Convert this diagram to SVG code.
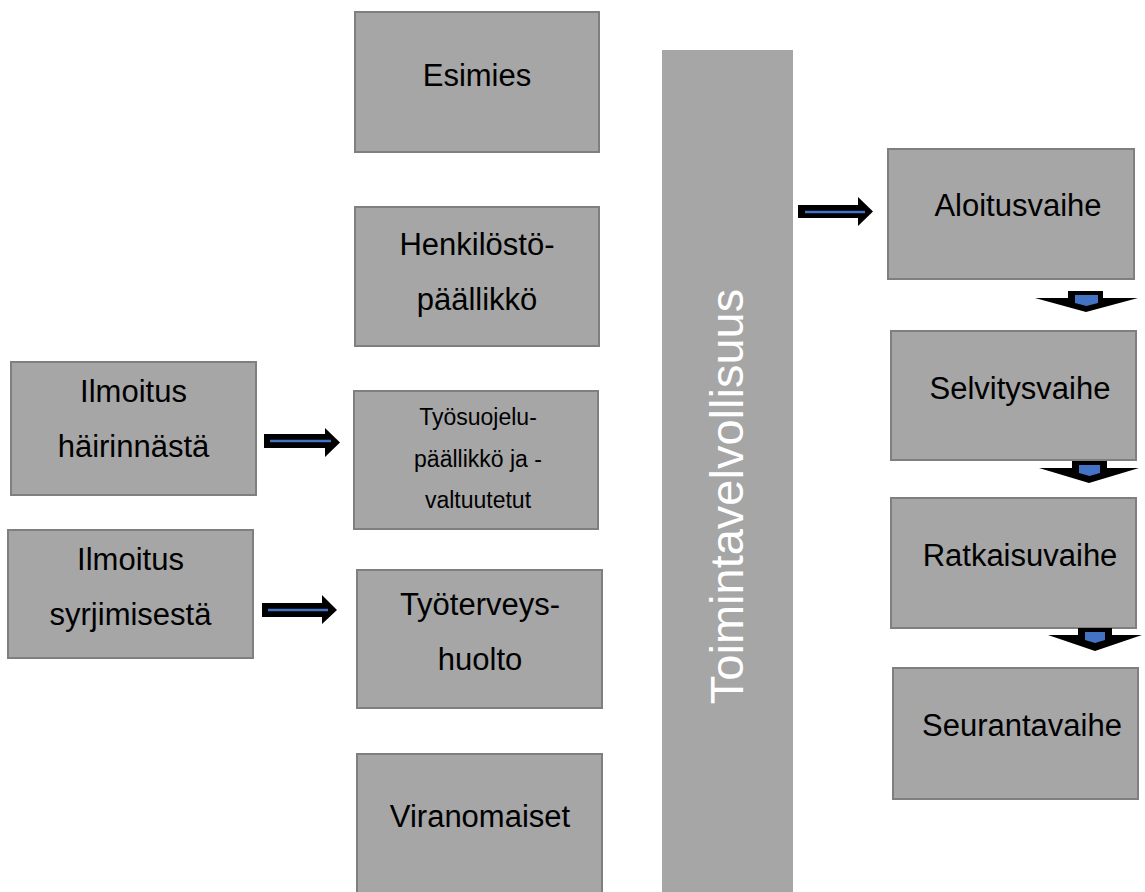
<svg xmlns="http://www.w3.org/2000/svg" width="1145" height="892" viewBox="0 0 1145 892">
<style>
.box{fill:#a6a6a6;stroke:#7f7f7f;stroke-width:2}
.t{font-family:"Liberation Sans",Arial,sans-serif;font-size:31px;fill:#000;text-anchor:middle}
.s{font-family:"Liberation Sans",Arial,sans-serif;font-size:23px;fill:#000;text-anchor:middle}
.arr{fill:#000}
.bl{stroke:#4472c4;stroke-width:2.5}
.blf{fill:#4472c4}
</style>
<rect width="1145" height="892" fill="#fff"/>
<g id="bar">
<rect x="662" y="50" width="131" height="850" fill="#a6a6a6"/>
<text transform="translate(743,496.5) rotate(-90)" font-family="Liberation Sans, Arial, sans-serif" font-size="47" fill="#fff" text-anchor="middle">Toimintavelvollisuus</text>
</g>
<g id="esimies"><rect class="box" x="355" y="12" width="244" height="140"/><text class="t" x="477" y="86">Esimies</text></g>
<g id="henkilosto"><rect class="box" x="355" y="207" width="244" height="139"/><text class="t" x="477" y="255">Henkilöstö-</text><text class="t" x="477" y="310">päällikkö</text></g>
<g id="tyosuojelu"><rect class="box" x="354" y="391" width="244" height="138"/><text class="s" x="478" y="425">Työsuojelu-</text><text class="s" x="478" y="467">päällikkö ja -</text><text class="s" x="478" y="508">valtuutetut</text></g>
<g id="tyoterveys"><rect class="box" x="357" y="570" width="245" height="138"/><text class="t" x="480" y="615">Työterveys-</text><text class="t" x="480" y="670">huolto</text></g>
<g id="viranomaiset"><rect class="box" x="357" y="754" width="245" height="145"/><text class="t" x="480" y="827">Viranomaiset</text></g>
<g id="ilmoitus1"><rect class="box" x="11" y="362" width="245" height="133"/><text class="t" x="133.5" y="402">Ilmoitus</text><text class="t" x="133.5" y="457">häirinnästä</text></g>
<g id="ilmoitus2"><rect class="box" x="8" y="530" width="245" height="128"/><text class="t" x="130.5" y="570">Ilmoitus</text><text class="t" x="130.5" y="625">syrjimisestä</text></g>
<g id="aloitus"><rect class="box" x="888" y="149" width="246" height="130"/><text class="t" x="1018" y="216">Aloitusvaihe</text></g>
<g id="selvitys"><rect class="box" x="891" y="331" width="245" height="129"/><text class="t" x="1020" y="399">Selvitysvaihe</text></g>
<g id="ratkaisu"><rect class="box" x="891" y="498" width="245" height="130"/><text class="t" x="1020" y="566">Ratkaisuvaihe</text></g>
<g id="seuranta"><rect class="box" x="893" y="668" width="245" height="131"/><text class="t" x="1022" y="736">Seurantavaihe</text></g>
<g id="connectors">
<polygon class="arr" points="264,434 325,434 325,428 340,442.5 325,457 325,448 264,448"/>
<line class="bl" x1="270" y1="441" x2="331" y2="441"/>
<polygon class="arr" points="262,603 322,603 322,595 337,610 322,624 322,617 262,617"/>
<line class="bl" x1="268" y1="610" x2="328" y2="610"/>
<polygon class="arr" points="798,205 858,205 858,197 873,211.5 858,226 858,218 798,218"/>
<line class="bl" x1="805" y1="212" x2="865" y2="212"/>
<polygon class="arr" points="1068,291 1103,291 1103,298 1138,298 1086,312 1035,298 1068,298"/>
<polygon class="blf" points="1075,295 1098,295 1098,303 1086.5,306 1075,303"/>
<polygon class="arr" points="1072,461 1107,461 1107,468 1139,468 1089,483 1039,468 1072,468"/>
<polygon class="blf" points="1079,465 1100,465 1100,473 1089.5,476 1079,473"/>
<polygon class="arr" points="1078,628 1112,628 1112,635 1142,635 1095,651 1048,635 1078,635"/>
<polygon class="blf" points="1085,632 1105,632 1105,640 1095,643 1085,640"/>
</g>
</svg>
